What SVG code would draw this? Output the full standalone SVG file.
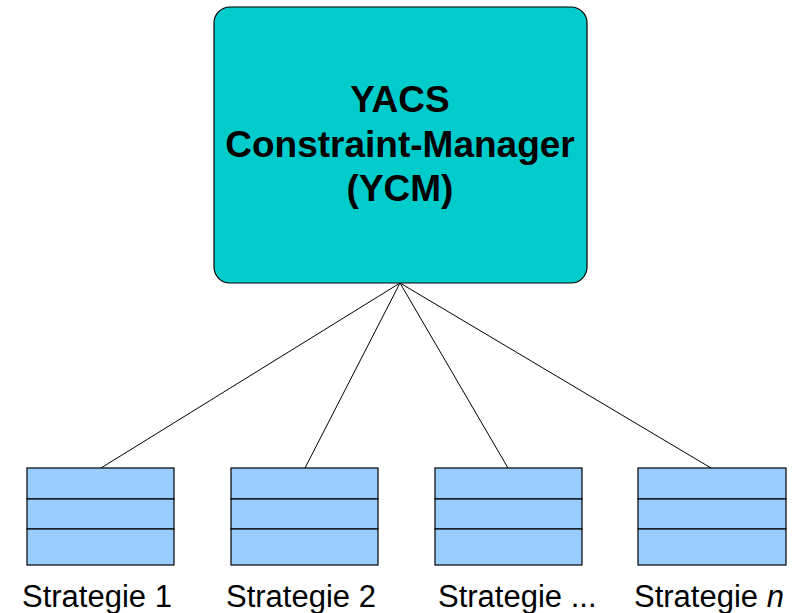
<svg xmlns="http://www.w3.org/2000/svg" width="806" height="613" viewBox="0 0 806 613">
<style>
.main{fill:#00CCCC;stroke:#000;stroke-width:1.2}
.strat{fill:#99CCFF;stroke:#000;stroke-width:1.2}
.conn{stroke:#000;stroke-width:1;fill:none}
.t1{font-family:"Liberation Sans",Arial,sans-serif;font-weight:bold;font-size:37px;fill:#000}
.t2{font-family:"Liberation Sans",Arial,sans-serif;font-size:31px;fill:#000}
</style>
<rect width="806" height="613" fill="#fff"/>
<g id="connectors">
<line class="conn" x1="400" y1="283" x2="101" y2="468"/>
<line class="conn" x1="400" y1="283" x2="305" y2="468"/>
<line class="conn" x1="400" y1="283" x2="508" y2="468"/>
<line class="conn" x1="400" y1="283" x2="711" y2="468"/>
</g>
<g id="ycm">
<rect class="main" x="214" y="7" width="373" height="276" rx="16" ry="16"/>
<text class="t1" x="400" y="112" text-anchor="middle">YACS</text>
<text class="t1" x="400" y="157" text-anchor="middle">Constraint-Manager</text>
<text class="t1" x="400" y="201" text-anchor="middle">(YCM)</text>
</g>
<g id="strategie1">
<rect class="strat" x="27" y="468" width="147" height="31"/>
<rect class="strat" x="27" y="499" width="147" height="30"/>
<rect class="strat" x="27" y="529" width="147" height="36"/>
<text class="t2" x="22" y="607">Strategie 1</text>
</g>
<g id="strategie2">
<rect class="strat" x="231" y="468" width="147" height="31"/>
<rect class="strat" x="231" y="499" width="147" height="30"/>
<rect class="strat" x="231" y="529" width="147" height="36"/>
<text class="t2" x="226" y="607">Strategie 2</text>
</g>
<g id="strategie3">
<rect class="strat" x="435" y="468" width="147" height="31"/>
<rect class="strat" x="435" y="499" width="147" height="30"/>
<rect class="strat" x="435" y="529" width="147" height="36"/>
<text class="t2" x="438" y="607">Strategie ...</text>
</g>
<g id="strategien">
<rect class="strat" x="638" y="468" width="148" height="31"/>
<rect class="strat" x="638" y="499" width="148" height="30"/>
<rect class="strat" x="638" y="529" width="148" height="36"/>
<text class="t2" x="634" y="607">Strategie <tspan font-style="italic">n</tspan></text>
</g>
</svg>
